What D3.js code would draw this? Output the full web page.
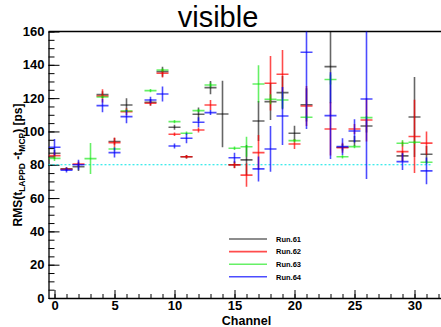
<!DOCTYPE html>
<html>
<head>
<meta charset="utf-8">
<script src="https://cdn.jsdelivr.net/npm/d3@7"></script>
<style>
  body { margin: 0; background: #fff; }
  svg { display: block; font-family: "Liberation Sans", Arial, Helvetica, sans-serif; }
</style>
</head>
<body>
<svg id="chart" width="441" height="327"></svg>
<script>
// channels that were measured
var channels = [0, 1, 2, 3, 4, 5, 6, 8, 9, 10, 11, 12, 13, 14, 15, 16, 17, 18, 19, 20, 21, 23, 24, 25, 26, 29, 30, 31]

// RMS per channel [ps], null = no point for that run
var run61 = [86.9, 77.5, 78.8, null, 122.1, 94.0, 115.9, 117.5, 135.9, 102.5, 84.8, 110.3, 126.3, 110.5, 80.0, 82.9, 106.3, 117.9, 123.3, 98.9, 116.0, 138.9, 90.5, 94.3, 103.3, 85.3, 108.7, 86.3]
var err61 = [2, 1, 2.5, null, 2, 2, 4, 2, 3, 1.5, 1, 4, 4, 20, 2, 9, 12, 11, 10, 4.5, 10, 22, 2, 3, 4, 3, 24, 5]

var run62 = [85.5, 77.3, 80.4, null, 121.3, 93.3, 111.9, 116.9, 134.9, 98.3, 84.8, 100.9, 115.9, null, 79.9, 73.8, 87.3, 128.9, 134.3, 92.5, 115.3, 101.5, 90.2, 101.5, 106.9, 87.9, 97.0, 93.0]
var err62 = [2, 1, 1.5, null, 4, 3, 2, 1.5, 2.5, 1, 1, 1.5, 3, null, 2, 7, 10.5, 16.4, 14.6, 3, 12, 16, 3, 3, 13, 6, 22, 7]

var run63 = [83.8, null, null, 83.7, 120.7, 89.5, 112.3, 124.5, 136.9, 105.9, 98.9, 112.5, 127.9, null, 89.9, 90.8, 128.5, 119.3, 118.9, 94.5, 108.5, 131.2, 84.8, 90.9, 108.3, 92.9, 93.5, 81.5]
var err63 = [1.5, null, null, 9.3, 1, 1, 1, 1, 1, 1, 1, 1, 1.5, null, 1, 6, 11.2, 3, 5, 1, 1, 3, 1, 1, 1, 2, 1, 1]

var run64 = [90.5, 76.8, 80.0, null, 115.5, 87.3, 108.9, 118.9, 122.5, 91.3, 95.9, 105.5, 111.3, null, 84.2, null, 77.5, 89.5, 109.3, null, 147.5, 109.5, 90.9, 100.3, 119.5, 81.9, null, 76.3]
var err64 = [5, 1.5, 3, null, 4, 3, 4, 2, 4.5, 1.5, 3, 3, 1.5, null, 3, null, 7.5, 13.7, 17.4, null, 46, 26, 5, 7, 48, 5, null, 8]

var runNames = ["Run.61", "Run.62", "Run.63", "Run.64"]
var runColors = ["#000000", "#ff0000", "#00e600", "#0000ff"]
var runAlpha = [0.6, 0.7, 0.6, 0.7]
var runValues = [run61, run62, run63, run64]
var runErrors = [err61, err62, err63, err64]

var yTicks = [0, 20, 40, 60, 80, 100, 120, 140, 160]
var xTicks = [0, 5, 10, 15, 20, 25, 30]
var referenceLevel = 80

var width = 441
var height = 327
var margin = {top: 31.5, right: -3.5, bottom: 29, left: 48.5}

var x = d3.scaleLinear()
  .domain([-0.5, 32.5])
  .range([margin.left, width - margin.right])

var y = d3.scaleLinear()
  .domain([0, 160])
  .range([height - margin.bottom, margin.top])

var svg = d3.select("#chart")

svg.append("clipPath").attr("id", "plotclip")
  .append("rect")
  .attr("x", x(-0.5)).attr("y", y(160))
  .attr("width", x(32.5) - x(-0.5)).attr("height", y(0) - y(160))

// title
svg.append("text")
  .attr("x", 218).attr("y", 27)
  .attr("text-anchor", "middle")
  .attr("font-size", 29)
  .text("visible")

// minor ticks
svg.append("g")
  .attr("transform", `translate(${x(-0.5)},0)`)
  .call(d3.axisLeft(y).tickValues(d3.range(0, 161, 5)).tickSizeInner(-6).tickSizeOuter(0).tickFormat(""))
  .call(g => g.select(".domain").remove())

svg.append("g")
  .attr("transform", `translate(0,${y(0)})`)
  .call(d3.axisBottom(x).tickValues(d3.range(0, 33)).tickSizeInner(-4).tickSizeOuter(0).tickFormat(""))
  .call(g => g.select(".domain").remove())

// main axes
var yAxis = g => g
  .attr("transform", `translate(${x(-0.5)},0)`)
  .call(d3.axisLeft(y).tickValues(yTicks).tickSizeInner(-11).tickSizeOuter(0).tickPadding(4))
  .call(g => g.selectAll("text").attr("font-size", 13).attr("font-weight", "bold").attr("fill", "#000").attr("font-family", null))

var xAxis = g => g
  .attr("transform", `translate(0,${y(0)})`)
  .call(d3.axisBottom(x).tickValues(xTicks).tickSizeInner(-8).tickSizeOuter(0).tickPadding(3))
  .call(g => g.selectAll("text").attr("font-size", 13).attr("font-weight", "bold").attr("fill", "#000").attr("font-family", null))

svg.append("g").call(yAxis)
svg.append("g").call(xAxis)

svg.selectAll(".tick line").attr("stroke", "#000")
svg.selectAll(".domain").attr("stroke", "#000").attr("stroke-width", 1.3)

// frame top
svg.append("line")
  .attr("x1", x(-0.5)).attr("x2", x(32.5))
  .attr("y1", y(160)).attr("y2", y(160))
  .attr("stroke", "#000").attr("stroke-width", 1.3)

// reference level
svg.append("line")
  .attr("x1", x(-0.5)).attr("x2", x(31.5))
  .attr("y1", y(referenceLevel)).attr("y2", y(referenceLevel))
  .attr("stroke", "#00e5e5").attr("stroke-width", 1).attr("stroke-dasharray", "2,2")

// axis titles
svg.append("text")
  .attr("x", x(16)).attr("y", 325)
  .attr("text-anchor", "middle")
  .attr("font-size", 12.5).attr("font-weight", "bold")
  .text("Channel")

var ytitle = svg.append("text")
  .attr("transform", "translate(22,165) rotate(-90)")
  .attr("text-anchor", "middle")
  .attr("font-size", 12).attr("font-weight", "bold")
ytitle.append("tspan").text("RMS(t")
ytitle.append("tspan").attr("font-size", 8.5).attr("dy", 3).text("LAPPD")
ytitle.append("tspan").attr("dy", -3).text(" -t")
ytitle.append("tspan").attr("font-size", 8.5).attr("dy", 3).text("MCP")
ytitle.append("tspan").attr("dy", -3).text(") [ps]")

// points with error bars
var plot = svg.append("g").attr("clip-path", "url(#plotclip)")

runValues.forEach((vals, r) => {
  var pts = channels.map((c, i) => ({ch: c, v: vals[i], e: runErrors[r][i]}))
    .filter(d => d.v != null)
  var g = plot.append("g")
    .attr("stroke", runColors[r])
    .attr("stroke-opacity", runAlpha[r])
    .attr("stroke-width", 1.6)
  g.selectAll("line.v")
    .data(pts)
    .join("line").attr("class", "v")
    .attr("x1", d => x(d.ch)).attr("x2", d => x(d.ch))
    .attr("y1", d => y(d.v - d.e)).attr("y2", d => y(d.v + d.e))
  g.selectAll("line.h")
    .data(pts)
    .join("line").attr("class", "h")
    .attr("x1", d => x(d.ch - 0.5)).attr("x2", d => x(d.ch + 0.5))
    .attr("y1", d => y(d.v)).attr("y2", d => y(d.v))
})

// legend
var legend = svg.append("g")
runNames.forEach((name, i) => {
  var ly = 239 + i * 12.6
  legend.append("line")
    .attr("x1", 229).attr("x2", 267)
    .attr("y1", ly).attr("y2", ly)
    .attr("stroke", runColors[i]).attr("stroke-opacity", runAlpha[i])
    .attr("stroke-width", 1.6)
  legend.append("text")
    .attr("x", 276).attr("y", ly + 2.8)
    .attr("font-size", 7.5).attr("font-weight", "bold")
    .text(name)
})
</script>
</body>
</html>
